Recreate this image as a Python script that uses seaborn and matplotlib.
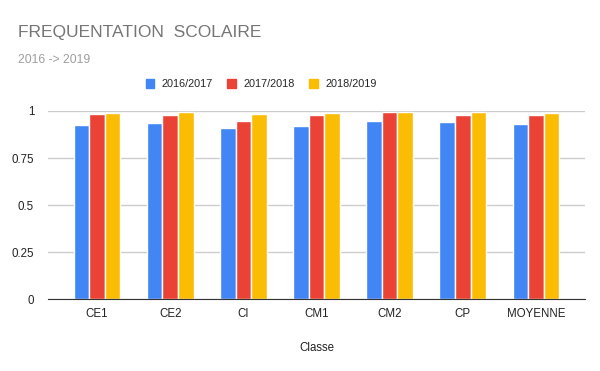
import pandas as pd
import seaborn as sns
import matplotlib.pyplot as plt

classes = ["CE1", "CE2", "CI", "CM1", "CM2", "CP", "MOYENNE"]
years = ["2016/2017", "2017/2018", "2018/2019"]
v_2016 = [0.926, 0.936, 0.910, 0.920, 0.947, 0.941, 0.931]
v_2017 = [0.984, 0.979, 0.947, 0.979, 0.995, 0.979, 0.979]
v_2018 = [0.989, 0.995, 0.984, 0.989, 0.995, 0.995, 0.989]
colors = ["#4285f4", "#ea4335", "#fbbc04"]

df = pd.DataFrame({
    "Classe": classes * 3,
    "Annee": [years[0]] * 7 + [years[1]] * 7 + [years[2]] * 7,
    "val": v_2016 + v_2017 + v_2018,
})

sns.set_style("white")
plt.rcParams["font.family"] = ["Liberation Sans", "DejaVu Sans"]

fig = plt.figure(figsize=(6, 3.71), dpi=100)
ax = fig.add_axes([0.08, 0.193, 0.895, 0.508])

sns.barplot(data=df, x="Classe", y="val", hue="Annee", palette=colors,
            saturation=1, width=0.64, edgecolor="white", linewidth=1,
            ax=ax, legend=False)

ax.set_ylim(0, 1)
ax.set_xlim(-0.67, 6.67)
ax.set_yticks([0, 0.25, 0.5, 0.75, 1])
ax.set_yticklabels(["0", "0.25", "0.5", "0.75", "1"])
ax.yaxis.grid(True, color="#cccccc", linewidth=1)
ax.set_axisbelow(True)
for s in ["top", "right", "left"]:
    ax.spines[s].set_visible(False)
ax.spines["bottom"].set_color("#333333")
ax.tick_params(axis="both", length=0, labelsize=8.3, colors="#222222")
ax.tick_params(axis="x", pad=6)
ax.tick_params(axis="y", pad=10)
ax.set_ylabel("")
ax.set_xlabel("Classe", fontsize=8.3, color="#222222", labelpad=16)

fig.text(0.03, 0.9, "FREQUENTATION  SCOLAIRE", fontsize=12.5, color="#757575")
fig.text(0.03, 0.83, "2016 -> 2019", fontsize=8.8, color="#9e9e9e")

handles = [plt.Rectangle((0, 0), 1, 1, color=c) for c in colors]
fig.legend(handles, years, loc="center", bbox_to_anchor=(0.435, 0.773), ncol=3,
           frameon=False, fontsize=7.8, handlelength=0.8, handleheight=0.9,
           columnspacing=1.3, handletextpad=0.7)

fig.savefig("out.png", dpi=100)
